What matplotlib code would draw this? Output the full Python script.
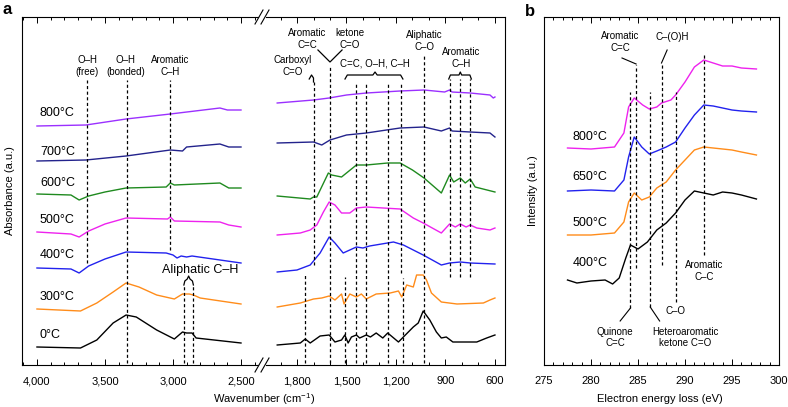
import matplotlib.pyplot as plt
from matplotlib.lines import Line2D
from matplotlib.ticker import MultipleLocator

plt.rcParams['font.family'] = ['Liberation Sans', 'DejaVu Sans']
plt.rcParams['mathtext.default'] = 'regular'

# FTIR spectra, (wavenumber, offset absorbance a.u.), high-wavenumber part
hi_800 = [(4000, 239), (3640, 240), (3345, 246), (3020, 251), (2655, 257), (2600, 255), (2500, 255)]
hi_700 = [(4000, 204), (3640, 205), (3345, 209), (3020, 215), (2930, 214), (2900, 218), (2655, 221),
          (2590, 218), (2500, 218)]
hi_600 = [(4000, 171), (3750, 170), (3690, 165), (3620, 169), (3500, 173), (3345, 177), (3050, 178),
          (3020, 182), (2990, 180), (2655, 182), (2590, 177), (2500, 177)]
hi_500 = [(4000, 133), (3750, 131), (3690, 128), (3620, 134), (3500, 141), (3345, 147), (3040, 146),
          (3020, 148), (2990, 144), (2655, 143), (2590, 140), (2500, 138)]
hi_400 = [(4000, 97), (3750, 96), (3690, 92), (3620, 99), (3500, 106), (3345, 113), (3050, 112),
          (3000, 110), (2970, 107), (2940, 109), (2900, 108), (2860, 109), (2500, 102)]
hi_300 = [(4000, 56), (3680, 54), (3560, 62), (3440, 73), (3345, 82), (3250, 78), (3120, 70), (2990, 66),
          (2930, 71), (2880, 71), (2850, 70), (2800, 67), (2500, 61)]
hi_0 = [(4000, 18), (3680, 17), (3560, 25), (3440, 42), (3345, 50), (3270, 48), (3120, 35), (2990, 26),
        (2930, 33), (2900, 32), (2860, 32), (2830, 27), (2500, 22)]

# FTIR spectra, fingerprint part
lo_800 = [(1920, 262), (1700, 265), (1605, 267), (1500, 270), (1380, 272), (1175, 274), (1030, 275),
          (905, 273), (875, 275), (860, 273), (750, 272), (630, 270), (610, 267), (600, 268)]
lo_700 = [(1920, 222), (1700, 223), (1650, 220), (1600, 225), (1500, 230), (1380, 232), (1175, 237),
          (1030, 238), (925, 234), (875, 237), (860, 234), (750, 233), (630, 232), (600, 228)]
lo_600 = [(1920, 169), (1720, 166), (1700, 168), (1680, 168), (1610, 192), (1590, 190), (1530, 188),
          (1440, 200), (1380, 200), (1250, 202), (1175, 202), (1100, 195), (1030, 187), (925, 172),
          (875, 190), (850, 183), (810, 187), (780, 182), (750, 186), (720, 178), (600, 173)]
lo_500 = [(1920, 130), (1780, 132), (1720, 135), (1680, 140), (1640, 153), (1605, 163), (1570, 160),
          (1530, 152), (1480, 152), (1440, 157), (1380, 158), (1175, 156), (1095, 147), (1035, 142),
          (925, 132), (875, 141), (840, 138), (810, 141), (775, 138), (750, 140), (710, 137), (630, 135),
          (600, 137)]
lo_400 = [(1920, 93), (1800, 95), (1720, 100), (1660, 112), (1605, 128), (1570, 122), (1520, 112),
          (1480, 115), (1440, 118), (1400, 117), (1360, 119), (1215, 123), (1155, 120), (1035, 110),
          (925, 100), (875, 102), (810, 103), (750, 102), (600, 101)]
lo_300 = [(1920, 58), (1780, 62), (1700, 66), (1650, 67), (1605, 69), (1570, 65), (1530, 71), (1515, 61),
          (1480, 71), (1440, 68), (1410, 71), (1380, 66), (1320, 71), (1235, 72), (1185, 74), (1165, 68),
          (1135, 80), (1095, 78), (1075, 90), (1035, 90), (1015, 85), (985, 72), (925, 63), (830, 61),
          (670, 62), (630, 65), (600, 67)]
lo_0 = [(1920, 20), (1780, 22), (1750, 26), (1720, 22), (1660, 29), (1605, 30), (1570, 23), (1530, 25),
        (1510, 30), (1490, 22), (1470, 28), (1440, 30), (1420, 27), (1380, 30), (1355, 28), (1320, 32),
        (1280, 27), (1250, 32), (1185, 23), (1155, 28), (1095, 38), (1065, 42), (1035, 54), (995, 45),
        (955, 33), (925, 27), (895, 28), (855, 23), (710, 23), (650, 27), (600, 30)]

ftir_temps = ['800°C', '700°C', '600°C', '500°C', '400°C', '300°C', '0°C']
ftir_hi = [hi_800, hi_700, hi_600, hi_500, hi_400, hi_300, hi_0]
ftir_lo = [lo_800, lo_700, lo_600, lo_500, lo_400, lo_300, lo_0]
ftir_colors = ['#9b30ff', '#23238c', '#1f8a1f', '#ee22ee', '#2222ee', '#ff8c1a', 'black']

# EELS spectra, (energy loss eV, offset intensity a.u.)
eels_800 = [(277.5, 217), (280, 216), (282.5, 218), (283.5, 232), (284, 258), (284.6, 267), (285.5, 260),
            (286.2, 256), (287, 258), (287.5, 262), (288.5, 265), (289, 270), (290, 283), (291, 298),
            (292, 305), (293, 302), (294, 299), (295, 299), (296, 297), (297.6, 296)]
eels_650 = [(277.5, 174), (280, 175), (282.5, 174), (283.5, 185), (284, 208), (284.6, 228), (285.4, 218),
            (286.2, 211), (287, 214), (288, 218), (289, 223), (290, 237), (291, 250), (292, 260),
            (293, 259), (294, 257), (295, 255), (296, 254), (297.6, 253)]
eels_500 = [(277.5, 130), (280, 130), (282.5, 132), (283.5, 143), (284, 163), (284.6, 172), (285.4, 165),
            (286.2, 168), (287, 177), (288, 183), (289, 195), (290, 205), (291, 215), (292, 218),
            (293, 217), (294, 216), (295, 215), (296, 213), (297.6, 210)]
eels_400 = [(277.5, 85), (278.5, 82), (280, 84), (281.5, 85), (282.3, 81), (283, 87), (283.7, 107),
            (284.2, 120), (285, 116), (286, 123), (287, 135), (288, 142), (289, 152), (290, 165),
            (291, 174), (292, 172), (293, 170), (294, 173), (295, 172), (296, 170), (297.6, 166)]

eels_temps = ['800°C', '650°C', '500°C', '400°C']
eels_series = [eels_800, eels_650, eels_500, eels_400]
eels_colors = ['#ee22ee', '#2222ee', '#ff8c1a', 'black']

peaks_hi = [3630, 3340, 3020, 2920, 2850]
peaks_lo = [1750, 1700, 1600, 1510, 1440, 1380, 1250, 1170, 1155, 1030, 875, 810, 750]
peaks_eels = [284.2, 284.8, 286.3, 287.5, 289.0, 292.0]

W, H = 788, 407
fig = plt.figure(figsize=(7.88, 4.07), dpi=100)


def frame(x0, x1):
    return [x0 / W, (H - 365) / H, (x1 - x0) / W, 348 / H]


axL = fig.add_axes(frame(22, 258))
axR = fig.add_axes(frame(266, 505))
axB = fig.add_axes(frame(544, 779))

axL.set_xlim(4110, 2375)
axR.set_xlim(1988, 539)
axB.set_xlim(275, 300)
axL.set_xticks([4000, 3500, 3000, 2500], [f'{t:,}' for t in [4000, 3500, 3000, 2500]])
axR.set_xticks([1800, 1500, 1200, 900, 600], [f'{t:,}' for t in [1800, 1500, 1200, 900, 600]])
axB.set_xticks(range(275, 301, 5))
axL.xaxis.set_minor_locator(MultipleLocator(100))
axR.xaxis.set_minor_locator(MultipleLocator(100))
axB.xaxis.set_minor_locator(MultipleLocator(1))

for ax in (axL, axR, axB):
    ax.set_ylim(0, 348)
    ax.set_yticks([])
    ax.tick_params(axis='x', which='both', direction='in', top=True, bottom=True,
                   labelsize=8, pad=8, width=0.7)
    ax.tick_params(axis='x', which='major', length=4)
    ax.tick_params(axis='x', which='minor', length=2.5)
    for s in ax.spines.values():
        s.set_linewidth(0.8)
axL.spines['right'].set_visible(False)
axR.spines['left'].set_visible(False)

# spectra
for ser, col in zip(ftir_hi, ftir_colors):
    axL.plot([p[0] for p in ser], [p[1] for p in ser], color=col, lw=1.0)
for ser, col in zip(ftir_lo, ftir_colors):
    axR.plot([p[0] for p in ser], [p[1] for p in ser], color=col, lw=1.0)
for ser, col in zip(eels_series, eels_colors):
    axB.plot([p[0] for p in ser], [p[1] for p in ser], color=col, lw=1.0)

# temperature labels
for t, yy in zip(ftir_temps, [252, 213, 182, 145, 110, 68, 30]):
    axL.text(3978, yy, t, fontsize=9, ha='left', va='center')
for t, yy in zip(eels_temps, [228, 188, 142, 102]):
    axB.text(278.0, yy, t, fontsize=9, ha='left', va='center')

# dashed guide lines
dash = dict(color='black', lw=0.9, ls=(0, (2.5, 2)))
for x, (top, bot) in zip(peaks_hi, [(285, 102), (285, 2), (285, 115), (80, 2), (80, 2)]):
    axL.plot([x, x], [bot, top], **dash)
lo_ext = [(90, 2), (283, 100), (300, 2), (88, 2), (283, 2), (283, 2), (283, 2), (283, 92), (87, 2),
          (310, 2), (286, 88), (286, 88), (286, 88)]
for x, (top, bot) in zip(peaks_lo, lo_ext):
    axR.plot([x, x], [bot, top], **dash)
eels_ext = [(273, 57), (300, 97), (273, 58), (300, 100), (273, 63), (310, 110)]
for x, (top, bot) in zip(peaks_eels, eels_ext):
    axB.plot([x, x], [bot, top], **dash)

# annotations, panel a
ann = dict(fontsize=7, ha='center', va='center', linespacing=1.15)
axL.text(3632, 299, 'O–H\n(free)', **ann)
axL.text(3346, 299, 'O–H\n(bonded)', **ann)
axL.text(3022, 299, 'Aromatic\nC–H', **ann)
axL.text(2801, 95, 'Aliphatic C–H', fontsize=9, ha='center', va='center')
axL.plot([2920, 2913, 2895, 2885, 2875, 2857, 2850], [80, 84, 86, 89, 86, 84, 80], color='black', lw=0.9)

axR.text(1739, 326, 'Aromatic\nC=C', **ann)
axR.text(1479, 326, 'ketone\nC=O', **ann)
axR.text(1824, 299, 'Carboxyl\nC=O', **ann)
axR.text(1327, 302, 'C=C, O–H, C–H', **ann)
axR.text(1030, 324, 'Aliphatic\nC–O', **ann)
axR.text(806, 307, 'Aromatic\nC–H', **ann)
axR.plot([1673, 1600, 1527], [315, 303, 315], color='black', lw=0.9)
axR.plot([1726, 1712, 1700, 1700], [286, 290, 287, 283], color='black', lw=0.9)
axR.plot([1509, 1495, 1340, 1327, 1314, 1172, 1158], [286, 290, 290, 293, 290, 290, 286],
         color='black', lw=0.9)
axR.plot([880, 870, 818, 810, 802, 752, 743], [286, 290, 290, 293, 290, 290, 286], color='black', lw=0.9)

# annotations, panel b
axB.text(283.1, 323, 'Aromatic\nC=C', **ann)
axB.text(288.6, 328, 'C–(O)H', **ann)
axB.plot([283.3, 284.8], [307, 301], color='black', lw=0.8)
axB.plot([288.1, 287.5], [315, 302], color='black', lw=0.8)
axB.text(282.55, 27.5, 'Quinone\nC=C', **ann)
axB.text(290.0, 27.5, 'Heteroaromatic\nketone C=O', **ann)
axB.plot([283.1, 284.2], [44, 57], color='black', lw=0.8)
axB.plot([287.3, 286.3], [44, 58], color='black', lw=0.8)
axB.text(289.0, 54, 'C–O', **ann)
axB.text(292.0, 94, 'Aromatic\nC–C', **ann)

# axis break marks
for yb in (365, 17):
    for dx in (0, 6):
        fig.add_artist(Line2D([(255 + dx) / W, (263 + dx) / W], [1 - (yb + 7) / H, 1 - (yb - 7) / H],
                              color='black', lw=0.8, transform=fig.transFigure))

fig.text(7 / W, 1 - 10 / H, 'a', fontsize=12, fontweight='bold', ha='center', va='center')
fig.text(530 / W, 1 - 12 / H, 'b', fontsize=12, fontweight='bold', ha='center', va='center')
fig.text(10 / W, 1 - 191 / H, 'Absorbance (a.u.)', fontsize=8, rotation=90, ha='center', va='center')
fig.text(533 / W, 1 - 191 / H, 'Intensity (a.u.)', fontsize=8, rotation=90, ha='center', va='center')
fig.text(264 / W, 1 - 399 / H, 'Wavenumber (cm$^{-1}$)', fontsize=8, ha='center', va='center')
fig.text(660 / W, 1 - 399 / H, 'Electron energy loss (eV)', fontsize=8, ha='center', va='center')

fig.savefig('out.png', dpi=100)
